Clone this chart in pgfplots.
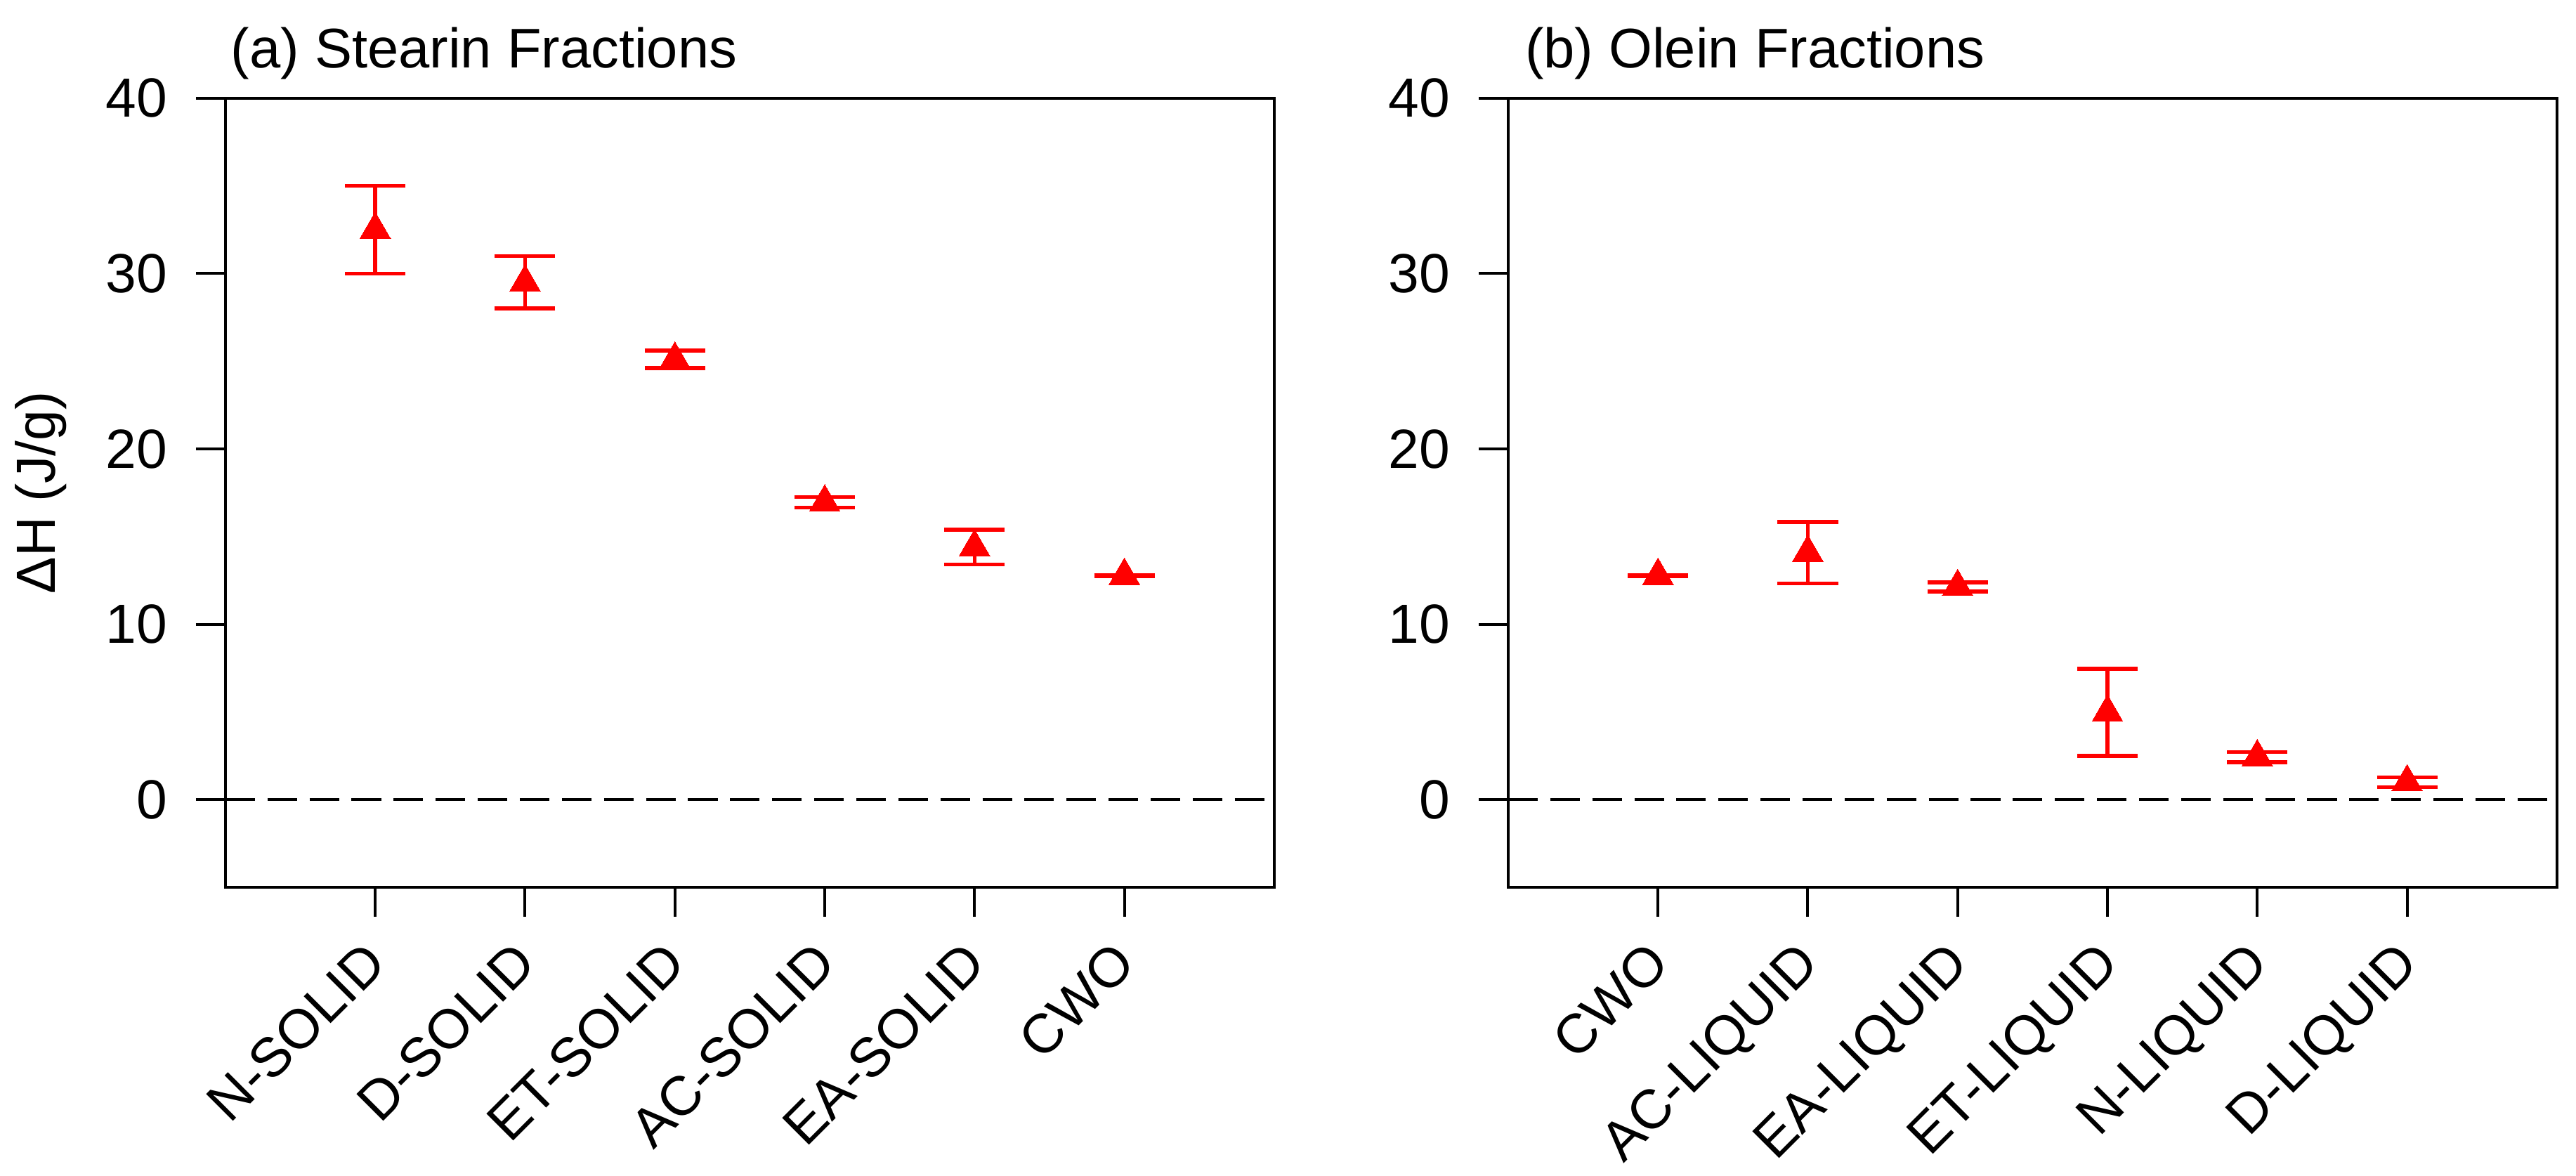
\documentclass[border=0pt]{standalone}
\usepackage{fontspec}
\setmainfont{Liberation Sans}
\usepackage{pgfplots}
\pgfplotsset{compat=1.18}
\pgfplotstableread{
x y e
1 32.50 2.50
2 29.50 1.50
3 25.10 0.50
4 16.95 0.30
5 14.40 1.00
6 12.77 0.03
}\stearin
\pgfplotstableread{
x y e
1 12.77 0.03
2 14.08 1.76
3 12.13 0.26
4 4.97 2.49
5 2.42 0.29
6 0.99 0.28
}\olein
\pgfplotsset{
  panel/.style={
    scale only axis, width=319.2pt, height=240.1pt,
    xmin=0, xmax=7, ymin=-5, ymax=40,
    xtick={1,2,3,4,5,6}, ytick={0,10,20,30,40},
    xtick pos=bottom, ytick pos=left,
    tick align=outside, major tick length=9pt,
    every tick/.style={black, line width=0.85pt},
    axis line style={line width=0.85pt},
    font=\fontsize{16.8}{20}\selectfont,
    /pgf/number format/assume math mode=true,
    yticklabel style={anchor=east, inner sep=0pt, xshift=-8.5pt},
    xticklabel style={yshift=-10.7pt, rotate=45, anchor=east, inner sep=0pt, text height=12pt, text depth=0pt},
    clip=false,
  },
  pts/.style={red, only marks, mark=triangle*, mark size=5.4pt,
    mark options={red, fill=red, line width=0pt},
    error bars/.cd, y dir=both, y explicit,
    error bar style={red, line width=1.15pt},
    error mark options={rotate=90, red, mark size=9.2pt, line width=1.2pt}},
}
\begin{document}
\begin{tikzpicture}
\useasboundingbox (0,0) rectangle (784pt,357.9pt);
\begin{axis}[panel, at={(68.6pt,87.9pt)}, anchor=south west,
  xticklabels={N-SOLID,D-SOLID,ET-SOLID,AC-SOLID,EA-SOLID,CWO},
  ylabel={ΔH (J/g)},
  ylabel style={at={(axis description cs:0,0.5)}, anchor=center, yshift=56.2pt},
]
\addplot[black, line width=0.8pt, dash pattern=on 9pt off 3.8pt] coordinates {(0,0) (7,0)};
\addplot[pts] table[x=x, y=y, y error=e] {\stearin};
\node[anchor=base west, inner sep=0pt, xshift=1.5pt, yshift=9.3pt, font=\fontsize{17}{20}\selectfont] at (rel axis cs:0,1) {(a) Stearin Fractions};
\end{axis}
\begin{axis}[panel, at={(459pt,87.9pt)}, anchor=south west,
  xticklabels={CWO,AC-LIQUID,EA-LIQUID,ET-LIQUID,N-LIQUID,D-LIQUID},
]
\addplot[black, line width=0.8pt, dash pattern=on 9pt off 3.8pt] coordinates {(0,0) (7,0)};
\addplot[pts] table[x=x, y=y, y error=e] {\olein};
\node[anchor=base west, inner sep=0pt, xshift=5pt, yshift=9.3pt, font=\fontsize{17}{20}\selectfont] at (rel axis cs:0,1) {(b) Olein Fractions};
\end{axis}
\end{tikzpicture}
\end{document}
